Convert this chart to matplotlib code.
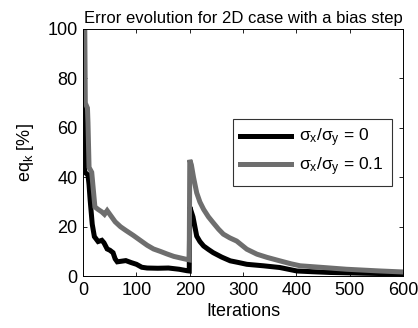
import matplotlib

matplotlib.use("Agg")
import matplotlib.pyplot as plt

plt.rcParams["font.family"] = ["Liberation Sans", "DejaVu Sans"]
plt.rcParams["mathtext.fontset"] = "custom"
plt.rcParams["mathtext.rm"] = "Liberation Sans"
plt.rcParams["mathtext.it"] = "Liberation Sans"

# series
iter_a = [0, 2, 3, 9, 11, 13, 17, 21, 28, 35, 39, 45, 50, 56, 60, 64, 80, 90,
          100, 110, 120, 140, 160, 180, 195, 199, 200, 206, 213, 219, 226, 235,
          244, 260, 276, 292, 307, 338, 369, 401, 430, 463, 525, 600]
err_a = [69, 68, 42, 41, 37, 31, 21, 16, 14, 14.5, 13.5, 11, 10.5, 9.5, 7,
         5.8, 6.3, 5.5, 4.8, 3.6, 3.3, 3.2, 3.3, 2.8, 2.2, 2.1, 28, 24, 16.2,
         14, 12.2, 10.8, 9.5, 7.7, 6.2, 5.5, 4.8, 4.2, 3.5, 2.1, 1.8, 1.5, 1.2,
         0.9]

iter_b = [0, 3, 4, 8, 9, 11, 16, 22, 28, 35, 40, 45, 50, 60, 70, 80, 94, 107,
          120, 132, 145, 157, 170, 182, 194, 199, 200, 203, 207, 213, 219, 226,
          235, 244, 254, 263, 275, 288, 307, 326, 345, 369, 390, 407, 451, 494,
          557, 600]
err_b = [100, 100, 70, 68, 62, 44, 42, 28, 27, 26, 25, 26.5, 25, 22, 20, 18.5,
         16.5, 14.5, 12.5, 11, 10, 9, 8, 7.4, 6.8, 6.6, 47, 45, 40, 33.7, 30,
         27, 24, 21.6, 19, 17, 15.5, 14.2, 10.9, 8.9, 7.6, 6.2, 5.0, 4.2, 3.5,
         2.8, 2.1, 1.7]

labels = [r"$\sigma_x/\sigma_y$ = 0", r"$\sigma_x/\sigma_y$ = 0.1"]
xticks = [0, 100, 200, 300, 400, 500, 600]
yticks = [0, 20, 40, 60, 80, 100]

fig = plt.figure(figsize=(4.18, 3.28), dpi=100)
ax = fig.add_axes([0.199, 0.158, 0.765, 0.754])

ax.plot(iter_a, err_a, color="black", lw=3.6, label=labels[0],
        solid_joinstyle="miter")
ax.plot(iter_b, err_b, color="#6e6e6e", lw=3.6, label=labels[1],
        solid_joinstyle="miter")

ax.set_xlim(0, 600)
ax.set_ylim(0, 100)
ax.set_xticks(xticks)
ax.set_yticks(yticks)
ax.tick_params(direction="in", length=3, width=0.6, top=True, right=True,
               labelsize=13, pad=4)
for s in ax.spines.values():
    s.set_linewidth(0.7)

ax.set_xlabel("Iterations", fontsize=13, labelpad=3)
ax.set_ylabel(r"eq$_\mathregular{k}$ [%]", fontsize=13, labelpad=8)
ax.set_title("Error evolution for 2D case with a bias step", fontsize=12,
             pad=4)

leg = ax.legend(loc="center right", bbox_to_anchor=(0.965, 0.5),
                fontsize=12.5, handlelength=2.9, frameon=True, fancybox=False,
                borderpad=0.45, labelspacing=0.35, handletextpad=0.5,
                borderaxespad=0)
leg.get_frame().set_edgecolor("black")
leg.get_frame().set_linewidth(0.8)

fig.savefig("out.png", dpi=100)
